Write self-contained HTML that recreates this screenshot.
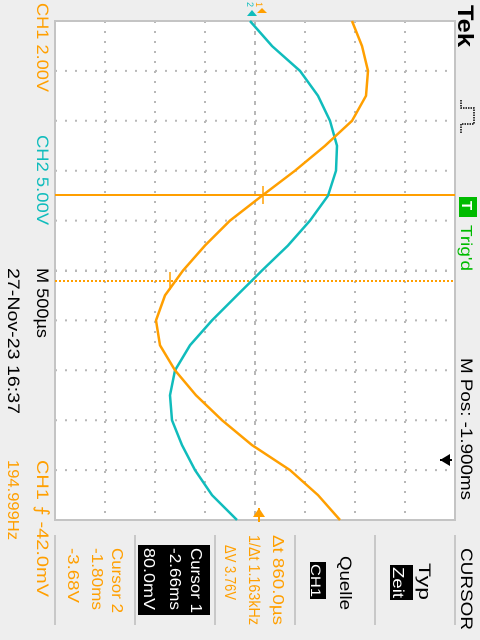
<!DOCTYPE html>
<html><head><meta charset="utf-8">
<style>
html,body{margin:0;padding:0;background:#eeeeee;}
svg{display:block;}
text{font-family:"Liberation Sans",sans-serif;}
</style></head>
<body>
<svg id="scope" width="480" height="640" viewBox="0 0 480 640" xmlns="http://www.w3.org/2000/svg">
<rect x="0" y="0" width="480" height="640" fill="#eeeeee"/>
<rect x="55" y="21" width="400" height="499" fill="#ffffff"/>
<g id="grid"></g>
<rect x="55" y="21" width="400" height="499" fill="none" stroke="#c4c4c4" stroke-width="2"/>

<line x1="55" y1="195" x2="455" y2="195" stroke="#ff9f00" stroke-width="2"/>
<line x1="55" y1="281" x2="455" y2="281" stroke="#ff9f00" stroke-width="2" stroke-dasharray="2 2"/>

<polyline id="ch2" fill="none" stroke="#10bcbc" stroke-width="2.5"/>
<polyline id="ch1" fill="none" stroke="#ff9f00" stroke-width="2.5"/>

<g stroke="#ff9f00" stroke-width="1.5"><line x1="263" y1="186" x2="263" y2="204"/></g>
<g stroke="#ff9f00" stroke-width="1.5"><line x1="170" y1="272" x2="170" y2="290"/></g>

<g><polygon points="257,13 262,8 267,13" fill="#ff9f00"/><text x="0" y="0" transform="translate(256,2) rotate(90)" font-size="9" fill="#ff9f00">1</text></g>
<g><polygon points="247,16 252,10 257,16" fill="#10bcbc"/><text transform="translate(247,2) rotate(90)" font-size="9" fill="#10bcbc">2</text></g>
<g><polygon points="253,517 259,508 265,517" fill="#ff9f00"/><line x1="259" y1="508" x2="259" y2="522" stroke="#ff9f00" stroke-width="2"/></g>
<g><polygon points="440,460 450,454 450,466" fill="#000"/><line x1="440" y1="460" x2="452" y2="460" stroke="#000" stroke-width="2"/></g>

<!-- Left labels -->
<text transform="translate(37,3) rotate(90)" font-size="17" fill="#ff9f00" textLength="89" lengthAdjust="spacingAndGlyphs">CH1  2.00V</text>
<text transform="translate(37,135) rotate(90)" font-size="17" fill="#10bcbc" textLength="90" lengthAdjust="spacingAndGlyphs">CH2  5.00V</text>
<text transform="translate(37,268) rotate(90)" font-size="17" fill="#000" textLength="70" lengthAdjust="spacingAndGlyphs">M 500µs</text>
<text transform="translate(8,268) rotate(90)" font-size="17" fill="#000" textLength="146" lengthAdjust="spacingAndGlyphs">27-Nov-23 16:37</text>
<text transform="translate(37,460) rotate(90)" font-size="17" fill="#ff9f00" textLength="137" lengthAdjust="spacingAndGlyphs">CH1 ⨍ -42.0mV</text>
<text transform="translate(8,460) rotate(90)" font-size="16" fill="#ff9f00" textLength="80" lengthAdjust="spacingAndGlyphs">194.999Hz</text>

<!-- Right labels -->
<text transform="translate(458,5) rotate(90)" font-size="22" font-weight="bold" font-family="Liberation Serif" fill="#000" textLength="42" lengthAdjust="spacingAndGlyphs">Tek</text>
<path d="M461,100 L461,108 L474,108 L474,124 L461,124 L461,134" fill="none" stroke="#000" stroke-width="1.5" stroke-dasharray="1.5 1"/>
<rect x="459" y="197" width="18" height="20" fill="#00bb00"/>
<text transform="translate(462,201) rotate(90)" font-size="15" fill="#fff" font-weight="bold">T</text>
<text transform="translate(461,225) rotate(90)" font-size="16" fill="#00bb00" textLength="46" lengthAdjust="spacingAndGlyphs">Trig'd</text>
<text transform="translate(461,358) rotate(90)" font-size="17" fill="#000" textLength="142" lengthAdjust="spacingAndGlyphs">M Pos: -1.900ms</text>

<!-- Menu separators -->
<g stroke="#c8c8c8" stroke-width="2">
<line x1="55" y1="535" x2="55" y2="625"/><line x1="135" y1="535" x2="135" y2="625"/><line x1="215" y1="535" x2="215" y2="625"/><line x1="295" y1="535" x2="295" y2="625"/><line x1="375" y1="535" x2="375" y2="625"/><line x1="455" y1="535" x2="455" y2="625"/>
</g>
<text transform="translate(461,548) rotate(90)" font-size="17" fill="#000" textLength="82" lengthAdjust="spacingAndGlyphs">CURSOR</text>
<g>
<text transform="translate(419,563) rotate(90)" font-size="17" fill="#000" textLength="37" lengthAdjust="spacingAndGlyphs">Typ</text>
<rect x="390" y="565" width="23" height="35" fill="#000"/>
<text transform="translate(393,567) rotate(90)" font-size="16" fill="#fff" textLength="31" lengthAdjust="spacingAndGlyphs">Zeit</text>
</g>
<g>
<text transform="translate(340,556) rotate(90)" font-size="17" fill="#000" textLength="54" lengthAdjust="spacingAndGlyphs">Quelle</text>
<rect x="310" y="562" width="16" height="37" fill="#000"/>
<text transform="translate(311,564) rotate(90)" font-size="14" fill="#fff" textLength="33" lengthAdjust="spacingAndGlyphs">CH1</text>
</g>
<g fill="#ff9f00">
<text transform="translate(273,535) rotate(90)" font-size="16" textLength="90" lengthAdjust="spacingAndGlyphs">Δt 860.0µs</text>
<text transform="translate(249,535) rotate(90)" font-size="16" textLength="90" lengthAdjust="spacingAndGlyphs">1/Δt 1.163kHz</text>
<text transform="translate(225,545) rotate(90)" font-size="16" textLength="55" lengthAdjust="spacingAndGlyphs">ΔV 3.76V</text>
</g>
<g>
<rect x="138" y="545" width="72" height="70" fill="#000"/>
<text transform="translate(191,548) rotate(90)" font-size="16" fill="#fff" textLength="65" lengthAdjust="spacingAndGlyphs">Cursor 1</text>
<text transform="translate(170,548) rotate(90)" font-size="16" fill="#fff" textLength="62" lengthAdjust="spacingAndGlyphs">-2.66ms</text>
<text transform="translate(144,548) rotate(90)" font-size="16" fill="#fff" textLength="62" lengthAdjust="spacingAndGlyphs">80.0mV</text>
</g>
<g fill="#ff9f00">
<text transform="translate(112,548) rotate(90)" font-size="16" textLength="65" lengthAdjust="spacingAndGlyphs">Cursor 2</text>
<text transform="translate(92,548) rotate(90)" font-size="16" textLength="62" lengthAdjust="spacingAndGlyphs">-1.80ms</text>
<text transform="translate(68,548) rotate(90)" font-size="16" textLength="55" lengthAdjust="spacingAndGlyphs">-3.68V</text>
</g>
</svg>
<script>
// time samples in divisions (0.5 ms/div), top of screen = 0
const timeDivs = [0,0.5,1,1.5,2,2.5,3,3.5,4,4.5,5,5.5,6,6.5,7,7.5,8,8.5,9,9.5,10];
// CH1 volts (2 V/div)
const ch1Volts = [3.88,4.28,4.52,4.44,3.88,2.8,1.6,0.28,-1.0,-2.0,-2.88,-3.6,-3.96,-3.8,-3.2,-2.36,-1.32,-0.12,1.4,2.52,3.4];
// CH2 volts (5 V/div)
const ch2Volts = [-0.5,1.7,4.5,6.3,7.5,8.2,8.1,7.3,5.5,3.3,0.7,-1.8,-4.3,-6.5,-8.0,-8.5,-8.3,-7.3,-6.0,-4.3,-1.8];
const ch1PerDiv = 2, ch2PerDiv = 5;

const svgNS = "http://www.w3.org/2000/svg";
const X0 = 255, DIV = 50, Y0 = 21, YDIV = 49.9;
function xScale(v, perDiv){ return X0 + v / perDiv * DIV; }
function yScale(t){ return Y0 + t * YDIV; }

const grid = document.getElementById('grid');
function addLine(x1,y1,x2,y2,dash,color){
  const l = document.createElementNS(svgNS,'line');
  l.setAttribute('x1',x1);l.setAttribute('y1',y1);l.setAttribute('x2',x2);l.setAttribute('y2',y2);
  l.setAttribute('stroke',color||'#b8b8b8');l.setAttribute('stroke-width','2');
  if(dash) l.setAttribute('stroke-dasharray',dash);
  
  
  grid.appendChild(l);
}
for(let k=1;k<8;k++){ const x=55+k*50; addLine(x,21,x,520, k===4?'4 6':'2 8'); }
for(let k=1;k<10;k++){ const y=21+k*49.9; addLine(55,y,455,y,'2 8'); }
// center horizontal tick axis
addLine(250,21,260,21,null);
addLine(55,271,455,271,'2 8');

function pts(vals, perDiv){
  return timeDivs.map((t,i)=> xScale(vals[i],perDiv).toFixed(1)+','+yScale(t).toFixed(1)).join(' ');
}
document.getElementById('ch1').setAttribute('points', pts(ch1Volts, ch1PerDiv));
document.getElementById('ch2').setAttribute('points', pts(ch2Volts, ch2PerDiv));
</script>
</body></html>
